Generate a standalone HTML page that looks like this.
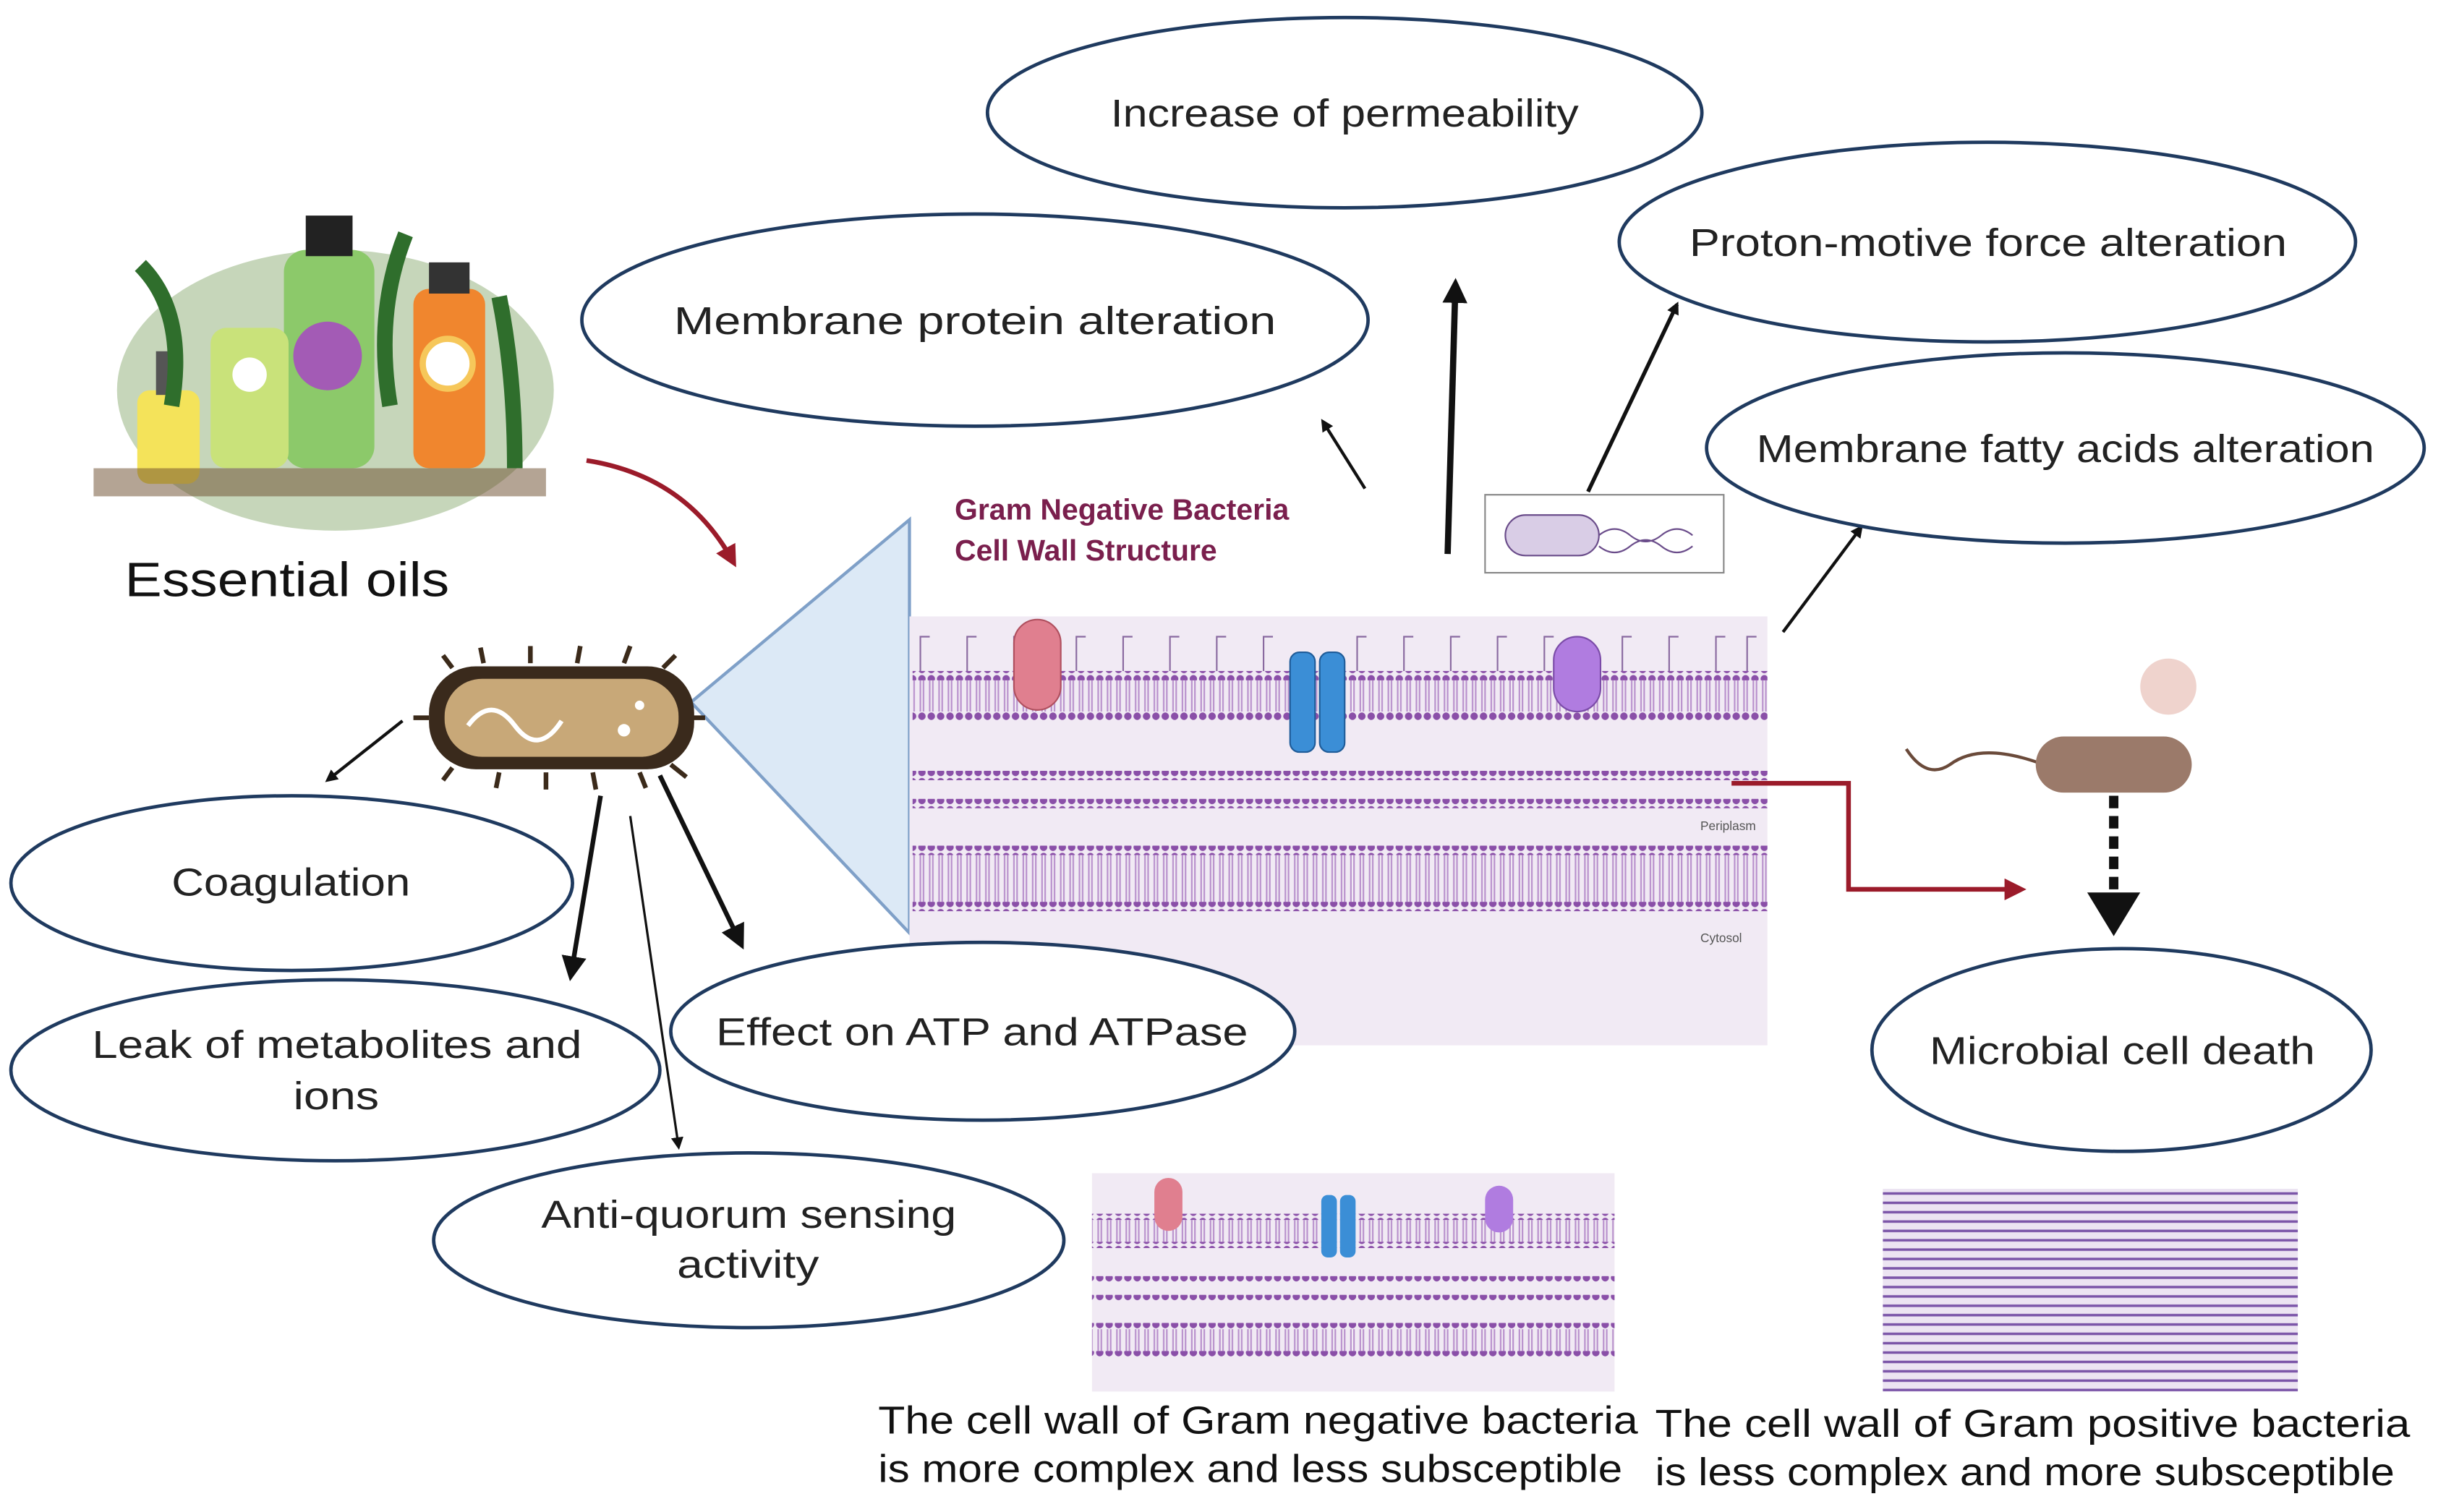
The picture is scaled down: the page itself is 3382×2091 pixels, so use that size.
<!DOCTYPE html>
<html><head><meta charset="utf-8"><style>
html,body{margin:0;padding:0;background:#fff;}
svg{display:block;}
text{font-family:"Liberation Sans",sans-serif;}
</style></head><body>
<svg width="3382" height="2091" viewBox="0 0 1568 969" xmlns="http://www.w3.org/2000/svg">
<defs>
<marker id="ah" markerWidth="8" markerHeight="8" refX="6" refY="4" orient="auto" markerUnits="userSpaceOnUse"><path d="M0,0 L8,4 L0,8 z" fill="#111"/></marker>
<marker id="ahb" markerWidth="16" markerHeight="16" refX="12" refY="8" orient="auto" markerUnits="userSpaceOnUse"><path d="M0,0 L16,8 L0,16 z" fill="#111"/></marker>
<marker id="ahr" markerWidth="14" markerHeight="14" refX="10" refY="7" orient="auto" markerUnits="userSpaceOnUse"><path d="M0,0 L14,7 L0,14 z" fill="#9b1b2a"/></marker>
<pattern id="dots" width="6" height="6" patternUnits="userSpaceOnUse"><circle cx="3" cy="3" r="2.4" fill="#8a4fa8"/></pattern>
<pattern id="tails" width="6" height="20" patternUnits="userSpaceOnUse"><line x1="2" y1="0" x2="2" y2="20" stroke="#b890cc" stroke-width="1"/><line x1="4" y1="0" x2="4" y2="20" stroke="#b890cc" stroke-width="1"/></pattern>
<pattern id="gp" width="8" height="6" patternUnits="userSpaceOnUse"><rect width="8" height="6" fill="#ece4f2"/><line x1="0" y1="3" x2="8" y2="3" stroke="#7b55a8" stroke-width="1.6"/></pattern>
</defs>

<!-- essential oils illustration -->
<g>
<ellipse cx="215" cy="250" rx="140" ry="90" fill="#5d8a3a" opacity="0.35"/>
<rect x="182" y="160" width="58" height="140" rx="14" fill="#8cc96a"/>
<rect x="196" y="138" width="30" height="26" fill="#222"/>
<rect x="265" y="185" width="46" height="115" rx="10" fill="#f0862e"/>
<rect x="275" y="168" width="26" height="20" fill="#333"/>
<rect x="135" y="210" width="50" height="90" rx="10" fill="#c9e27a"/>
<rect x="88" y="250" width="40" height="60" rx="8" fill="#f4e35a"/>
<rect x="100" y="225" width="16" height="28" fill="#555"/>
<circle cx="210" cy="228" r="22" fill="#a35bb5"/>
<circle cx="287" cy="233" r="16" fill="#fff" stroke="#f6c75a" stroke-width="4"/>
<circle cx="160" cy="240" r="11" fill="#fff"/>
<path d="M90,170 Q120,200 110,260 M260,150 Q240,200 250,260 M320,190 Q330,240 330,300" stroke="#2f6e2c" stroke-width="10" fill="none"/>
<rect x="60" y="300" width="290" height="18" fill="#6a4a2a" opacity="0.5"/>
</g>
<text x="80" y="382" font-size="31" textLength="208" lengthAdjust="spacingAndGlyphs" fill="#111">Essential oils</text>

<path d="M376,295 Q440,305 470,360" stroke="#9b1b2a" stroke-width="3" fill="none" marker-end="url(#ahr)"/>

<polygon points="443,450 583,333 583,598" fill="#dce9f6" stroke="#7fa0c8" stroke-width="2"/>

<!-- bacterium -->
<g>
<g stroke="#3b2a1a" stroke-width="3">
<line x1="290" y1="428" x2="284" y2="420"/><line x1="310" y1="425" x2="308" y2="415"/><line x1="340" y1="425" x2="340" y2="414"/><line x1="370" y1="425" x2="372" y2="414"/><line x1="400" y1="425" x2="404" y2="414"/><line x1="425" y1="428" x2="433" y2="420"/>
<line x1="290" y1="492" x2="284" y2="500"/><line x1="320" y1="495" x2="318" y2="505"/><line x1="350" y1="495" x2="350" y2="506"/><line x1="380" y1="495" x2="382" y2="506"/><line x1="410" y1="495" x2="414" y2="505"/><line x1="430" y1="490" x2="440" y2="498"/>
<line x1="275" y1="460" x2="265" y2="460"/><line x1="443" y1="460" x2="452" y2="460"/>
</g>
<rect x="275" y="427" width="170" height="66" rx="30" fill="#3a2a1c"/>
<rect x="285" y="435" width="150" height="50" rx="24" fill="#c8a878"/>
<path d="M300,465 Q315,445 330,465 T360,462" stroke="#fff" stroke-width="3" fill="none"/>
<circle cx="400" cy="468" r="4" fill="#fff"/><circle cx="410" cy="452" r="3" fill="#fff"/>
</g>

<!-- membrane panel -->
<rect x="583" y="395" width="550" height="275" fill="#f1eaf4"/>
<g fill="none" stroke="#8a6aa0" stroke-width="1">
<path d="M590,430 v-22 h6 M620,430 v-22 h6 M650,430 v-22 h6 M690,430 v-22 h6 M720,430 v-22 h6 M750,430 v-22 h6 M780,430 v-22 h6 M810,430 v-22 h6 M870,430 v-22 h6 M900,430 v-22 h6 M930,430 v-22 h6 M960,430 v-22 h6 M990,430 v-22 h6 M1040,430 v-22 h6 M1070,430 v-22 h6 M1100,430 v-22 h6 M1120,430 v-22 h6"/>
</g>
<rect x="585" y="430" width="548" height="6" fill="url(#dots)"/>
<rect x="585" y="436" width="548" height="20" fill="url(#tails)"/>
<rect x="585" y="456" width="548" height="6" fill="url(#dots)"/>
<rect x="585" y="494" width="548" height="6" fill="url(#dots)"/>
<rect x="585" y="512" width="548" height="6" fill="url(#dots)"/>
<rect x="585" y="542" width="548" height="6" fill="url(#dots)"/>
<rect x="585" y="548" width="548" height="30" fill="url(#tails)"/>
<rect x="585" y="578" width="548" height="6" fill="url(#dots)"/>
<rect x="650" y="397" width="30" height="58" rx="15" fill="#e07f8f" stroke="#b0505f"/>
<rect x="827" y="418" width="16" height="64" rx="6" fill="#3b8ed6" stroke="#1f5c99"/>
<rect x="846" y="418" width="16" height="64" rx="6" fill="#3b8ed6" stroke="#1f5c99"/>
<rect x="996" y="408" width="30" height="48" rx="15" fill="#b07ce0" stroke="#7b4ca8"/>
<text x="1090" y="532" font-size="8" fill="#555">Periplasm</text>
<text x="1090" y="604" font-size="8" fill="#555">Cytosol</text>
<text x="612" y="333" font-size="19" font-weight="bold" fill="#7a1f4d">Gram Negative Bacteria</text>
<text x="612" y="359" font-size="19" font-weight="bold" fill="#7a1f4d">Cell Wall Structure</text>

<rect x="952" y="317" width="153" height="50" fill="#fff" stroke="#888"/>
<rect x="965" y="330" width="60" height="26" rx="13" fill="#d9cde6" stroke="#6a4c8a"/>
<path d="M1025,343 q10,-8 20,0 t20,0 t20,0 M1025,350 q10,8 20,0 t20,0 t20,0" stroke="#6a4c8a" fill="none"/>

<path d="M1110,502 H1185 V570 H1295" stroke="#9b1b2a" stroke-width="3" fill="none" marker-end="url(#ahr)"/>

<path d="M1310,490 Q1270,475 1250,490 Q1235,500 1222,480" stroke="#6a4a3a" stroke-width="2" fill="none"/>
<rect x="1305" y="472" width="100" height="36" rx="18" fill="#9b7a6a"/>
<circle cx="1390" cy="440" r="18" fill="#e8c0b8" opacity="0.7"/>
<line x1="1355" y1="510" x2="1355" y2="575" stroke="#111" stroke-width="6" stroke-dasharray="8,5"/>
<polygon points="1338,572 1372,572 1355,600" fill="#111"/>

<g stroke="#111" fill="none">
<line x1="928" y1="355" x2="933" y2="182" stroke-width="4" marker-end="url(#ahb)"/>
<line x1="875" y1="313" x2="848" y2="270" stroke-width="2" marker-end="url(#ah)"/>
<line x1="1018" y1="315" x2="1075" y2="195" stroke-width="2.5" marker-end="url(#ah)"/>
<line x1="1143" y1="405" x2="1193" y2="338" stroke-width="2" marker-end="url(#ah)"/>
<line x1="258" y1="462" x2="210" y2="500" stroke-width="2" marker-end="url(#ah)"/>
<line x1="385" y1="510" x2="366" y2="625" stroke-width="3" marker-end="url(#ahb)"/>
<line x1="404" y1="523" x2="435" y2="735" stroke-width="1.5" marker-end="url(#ah)"/>
<line x1="423" y1="497" x2="475" y2="605" stroke-width="3" marker-end="url(#ahb)"/>
</g>

<g fill="#fff" stroke="#1f3a5f" stroke-width="2.2">
<ellipse cx="862" cy="72" rx="229" ry="61"/>
<ellipse cx="625" cy="205" rx="252" ry="68"/>
<ellipse cx="1274" cy="155" rx="236" ry="64"/>
<ellipse cx="1324" cy="287" rx="230" ry="61"/>
<ellipse cx="187" cy="566" rx="180" ry="56"/>
<ellipse cx="215" cy="686" rx="208" ry="58"/>
<ellipse cx="630" cy="661" rx="200" ry="57"/>
<ellipse cx="480" cy="795" rx="202" ry="56"/>
<ellipse cx="1360" cy="673" rx="160" ry="65"/>
</g>
<g font-size="25" fill="#222" lengthAdjust="spacingAndGlyphs">
<text x="712" y="81" textLength="300" lengthAdjust="spacingAndGlyphs">Increase of permeability</text>
<text x="432" y="214" textLength="386" lengthAdjust="spacingAndGlyphs">Membrane protein alteration</text>
<text x="1083" y="164" textLength="383" lengthAdjust="spacingAndGlyphs">Proton-motive force alteration</text>
<text x="1126" y="296" textLength="396" lengthAdjust="spacingAndGlyphs">Membrane fatty acids alteration</text>
<text x="110" y="574" textLength="153" lengthAdjust="spacingAndGlyphs">Coagulation</text>
<text x="59" y="678" textLength="314" lengthAdjust="spacingAndGlyphs">Leak of metabolites and</text>
<text x="188" y="711" textLength="55" lengthAdjust="spacingAndGlyphs">ions</text>
<text x="459" y="670" textLength="341" lengthAdjust="spacingAndGlyphs">Effect on ATP and ATPase</text>
<text x="347" y="787" textLength="266" lengthAdjust="spacingAndGlyphs">Anti-quorum sensing</text>
<text x="434" y="819" textLength="91" lengthAdjust="spacingAndGlyphs">activity</text>
<text x="1237" y="682" textLength="247" lengthAdjust="spacingAndGlyphs">Microbial cell death</text>
</g>

<rect x="700" y="752" width="335" height="140" fill="#f1eaf4"/>
<rect x="700" y="778" width="335" height="4" fill="url(#dots)"/>
<rect x="700" y="782" width="335" height="14" fill="url(#tails)"/>
<rect x="700" y="796" width="335" height="4" fill="url(#dots)"/>
<rect x="700" y="818" width="335" height="4" fill="url(#dots)"/>
<rect x="700" y="830" width="335" height="4" fill="url(#dots)"/>
<rect x="700" y="848" width="335" height="4" fill="url(#dots)"/>
<rect x="700" y="852" width="335" height="14" fill="url(#tails)"/>
<rect x="700" y="866" width="335" height="4" fill="url(#dots)"/>
<rect x="740" y="755" width="18" height="34" rx="9" fill="#e07f8f"/>
<rect x="847" y="766" width="10" height="40" rx="4" fill="#3b8ed6"/>
<rect x="859" y="766" width="10" height="40" rx="4" fill="#3b8ed6"/>
<rect x="952" y="760" width="18" height="30" rx="9" fill="#b07ce0"/>

<rect x="1207" y="762" width="266" height="130" fill="url(#gp)"/>

<g font-size="25" fill="#111">
<text x="563" y="919" textLength="487" lengthAdjust="spacingAndGlyphs">The cell wall of Gram negative bacteria</text>
<text x="563" y="950" textLength="477" lengthAdjust="spacingAndGlyphs">is more complex and less subsceptible</text>
<text x="1061" y="921" textLength="484" lengthAdjust="spacingAndGlyphs">The cell wall of Gram positive bacteria</text>
<text x="1061" y="952" textLength="474" lengthAdjust="spacingAndGlyphs">is less complex and more subsceptible</text>
</g>
</svg>
</body></html>
